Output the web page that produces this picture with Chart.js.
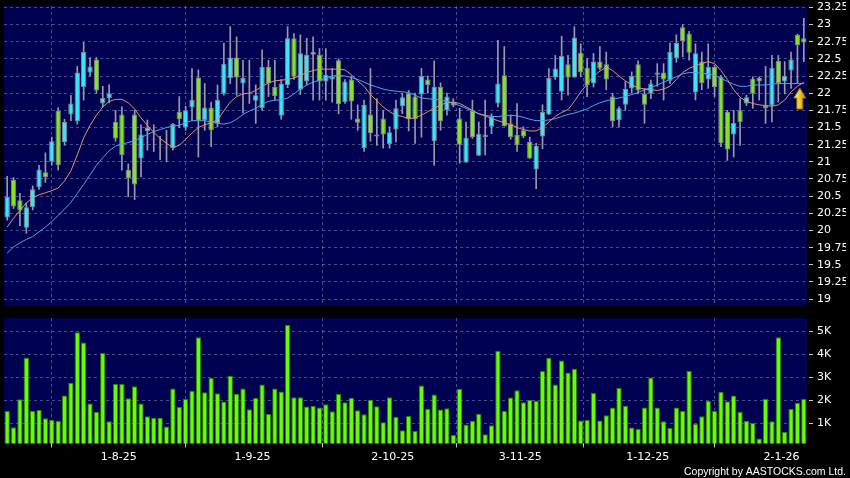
<!DOCTYPE html>
<html><head><meta charset="utf-8">
<script src="https://cdn.jsdelivr.net/npm/chart.js"></script>
<style>
html,body{margin:0;padding:0;background:#000;}
#wrap{position:relative;width:850px;height:478px;background:#000;overflow:hidden;}
.pane{position:absolute;left:0;width:850px;}
</style></head><body>
<div id="wrap">
<div class="pane" style="top:0;height:310px"><canvas id="c1" width="850" height="310"></canvas></div>
<div class="pane" style="top:310px;height:168px"><canvas id="c2" width="850" height="168"></canvas></div>
</div>
<script>
// ---------- data ----------
const dates = [
"8-7-25","9-7-25","10-7-25","11-7-25","14-7-25","15-7-25","16-7-25","17-7-25","18-7-25","21-7-25","22-7-25","23-7-25","24-7-25","25-7-25","28-7-25","29-7-25","30-7-25","31-7-25",
"1-8-25","4-8-25","5-8-25","6-8-25","7-8-25","8-8-25","11-8-25","12-8-25","13-8-25","14-8-25","15-8-25","18-8-25","19-8-25","20-8-25","21-8-25","22-8-25","25-8-25","26-8-25","27-8-25","28-8-25","29-8-25",
"1-9-25","2-9-25","3-9-25","4-9-25","5-9-25","8-9-25","9-9-25","10-9-25","11-9-25","12-9-25","15-9-25","16-9-25","17-9-25","18-9-25","19-9-25","22-9-25","23-9-25","24-9-25","25-9-25","26-9-25","29-9-25","30-9-25",
"2-10-25","3-10-25","6-10-25","8-10-25","9-10-25","10-10-25","13-10-25","14-10-25","15-10-25","16-10-25","17-10-25","20-10-25","21-10-25","22-10-25","23-10-25","24-10-25","27-10-25","28-10-25","30-10-25","31-10-25",
"3-11-25","4-11-25","5-11-25","6-11-25","7-11-25","10-11-25","11-11-25","12-11-25","13-11-25","14-11-25","17-11-25","18-11-25","19-11-25","20-11-25","21-11-25","24-11-25","25-11-25","26-11-25","27-11-25","28-11-25",
"1-12-25","2-12-25","3-12-25","4-12-25","5-12-25","8-12-25","9-12-25","10-12-25","11-12-25","12-12-25","15-12-25","16-12-25","17-12-25","18-12-25","19-12-25","22-12-25","23-12-25","24-12-25","29-12-25","30-12-25","31-12-25",
"2-1-26","5-1-26","6-1-26","7-1-26"];

const opens = [20.19,20.74,20.44,20.04,20.34,20.63,20.85,21.0,21.74,21.29,21.69,21.59,22.09,22.3,22.49,21.85,21.93,21.58,21.69,20.88,
21.69,21.05,21.45,21.32,21.2,21.2,21.2,21.73,21.5,21.79,22.23,21.61,21.79,21.56,21.99,22.22,22.52,22.14,21.99,21.89,
21.78,22.38,22.09,21.67,22.12,22.8,22.05,22.17,22.56,22.56,22.17,22.2,22.48,21.87,22.2,21.63,21.2,21.69,21.4,21.63,
21.26,21.47,21.81,22.0,21.95,21.98,22.2,21.3,22.09,21.75,21.82,21.63,20.99,21.74,21.09,21.4,21.51,21.85,22.26,21.56,
21.39,21.46,21.29,20.89,21.37,21.69,22.23,22.02,22.42,22.23,22.59,22.37,22.14,22.46,22.42,21.95,21.61,21.83,22.07,22.42,
21.99,21.99,22.27,22.3,22.18,22.51,22.96,22.87,22.01,22.46,22.2,22.38,22.24,21.73,21.4,21.75,21.85,22.21,22.22,21.82,
21.82,22.47,22.17,22.33,22.85,22.8];
const highs = [20.79,20.77,20.54,20.4,20.65,20.95,21.13,21.36,21.79,21.62,21.97,22.39,22.74,22.52,22.52,22.1,22.12,21.75,21.8,20.97,
21.75,21.54,21.61,21.54,21.37,21.46,21.56,21.95,21.81,22.36,22.34,22.14,21.87,22.12,22.73,22.97,22.82,22.48,22.48,22.12,
22.63,22.48,22.48,22.2,22.97,22.87,22.85,22.8,22.82,22.65,22.65,22.36,22.5,22.2,22.25,21.83,21.9,22.36,21.92,21.75,
21.51,21.9,22.0,22.04,22.0,22.36,22.25,22.47,22.15,22.0,21.92,21.78,21.58,21.9,21.58,21.9,21.7,22.77,22.68,21.68,
21.85,21.51,21.36,21.27,21.83,22.36,22.55,22.83,22.55,22.97,22.72,22.5,22.58,22.68,22.6,22.0,21.8,22.17,22.31,22.47,
22.07,22.19,22.43,22.43,22.73,22.85,23.0,22.9,22.72,22.6,22.72,22.41,22.26,21.75,21.75,21.92,21.97,22.24,22.24,22.39,
22.55,22.55,22.46,22.6,22.86,23.09];
const lows = [20.15,20.32,20.07,19.96,20.3,20.6,20.7,20.95,20.88,21.24,21.6,21.55,21.9,22.25,22.0,21.8,21.86,21.3,20.88,20.49,
20.45,20.78,21.17,21.15,21.03,21.0,21.17,21.5,21.46,21.6,21.07,21.46,21.22,21.51,21.97,22.14,21.97,21.71,21.85,21.56,
21.75,21.95,21.9,21.62,22.08,22.2,21.98,22.12,21.9,21.9,21.9,21.87,21.7,21.85,21.62,21.46,21.15,21.3,21.24,21.2,
21.2,21.29,21.7,21.45,21.27,21.36,22.0,20.95,21.46,21.68,21.8,20.98,20.99,21.34,21.09,21.1,21.41,21.8,21.52,21.33,
21.15,21.35,21.05,20.61,21.19,21.69,22.2,21.9,21.97,22.23,22.24,21.95,22.09,22.34,22.05,21.51,21.51,21.75,22.0,21.99,
21.56,21.92,22.1,21.9,22.14,22.45,22.53,22.48,21.9,22.05,22.07,21.95,21.22,21.02,21.07,21.24,21.82,21.78,21.9,21.56,
21.58,21.87,21.99,22.07,22.15,22.46];
const closes = [20.49,20.35,20.29,20.34,20.6,20.89,20.78,21.3,20.95,21.58,21.85,22.3,22.6,22.39,22.04,21.93,22.0,21.34,21.1,20.76,
20.67,21.4,21.5,21.33,21.21,21.21,21.55,21.62,21.75,21.9,21.6,21.79,21.46,21.9,22.43,22.52,22.23,22.22,22.0,21.97,
22.38,22.14,21.96,22.14,22.8,22.24,22.58,22.56,22.6,22.17,22.27,22.24,21.84,22.17,21.88,21.57,21.83,21.42,21.37,21.4,
21.43,21.78,21.94,21.62,21.62,22.25,22.12,22.09,21.59,21.95,21.87,21.25,21.35,21.36,21.41,21.36,21.66,22.14,21.52,21.36,
21.24,21.37,21.05,21.23,21.73,22.22,22.36,22.54,22.23,22.81,22.31,22.12,22.46,22.36,22.2,21.59,21.78,22.06,22.25,22.04,
21.83,22.14,22.3,22.2,22.6,22.73,22.76,22.59,22.58,22.15,22.38,22.09,21.27,21.18,21.57,21.58,21.94,21.99,22.17,21.78,
22.37,22.15,22.25,22.49,22.7,22.74];
const maShort = [20.05,20.18,20.29,20.4,20.48,20.52,20.55,20.58,20.62,20.72,20.87,21.1,21.35,21.53,21.68,21.8,21.88,21.91,21.91,21.86,
21.77,21.64,21.53,21.43,21.34,21.27,21.21,21.24,21.33,21.42,21.5,21.54,21.57,21.61,21.74,21.87,21.95,21.99,22.0,22.04,
22.1,22.15,22.18,22.19,22.2,22.22,22.26,22.3,22.33,22.35,22.35,22.35,22.35,22.34,22.27,22.18,22.1,21.98,21.89,21.8,
21.73,21.68,21.66,21.63,21.64,21.68,21.73,21.78,21.83,21.86,21.87,21.85,21.8,21.75,21.7,21.67,21.63,21.6,21.57,21.54,
21.5,21.47,21.45,21.45,21.5,21.58,21.66,21.72,21.76,21.88,22.02,22.13,22.25,22.32,22.38,22.33,22.25,22.18,22.12,22.08,
22.06,22.05,22.04,22.06,22.1,22.2,22.3,22.36,22.4,22.43,22.46,22.43,22.33,22.2,22.05,21.94,21.88,21.85,21.83,21.82,
21.81,21.83,21.9,22.02,22.1,22.16];
const maLong = [19.67,19.76,19.82,19.87,19.91,19.98,20.05,20.13,20.22,20.31,20.41,20.54,20.67,20.81,20.95,21.06,21.16,21.23,21.26,21.28,
21.31,21.35,21.4,21.44,21.47,21.5,21.52,21.53,21.57,21.6,21.6,21.6,21.58,21.56,21.55,21.57,21.62,21.69,21.74,21.78,
21.84,21.88,21.9,21.9,21.93,21.99,22.06,22.12,22.16,22.19,22.22,22.25,22.26,22.25,22.23,22.2,22.16,22.12,22.09,22.06,
22.04,22.03,22.02,22.01,21.97,21.93,21.92,21.91,21.9,21.88,21.85,21.82,21.78,21.74,21.7,21.68,21.66,21.66,21.67,21.68,
21.67,21.65,21.62,21.6,21.6,21.61,21.63,21.66,21.69,21.71,21.74,21.77,21.82,21.86,21.89,21.91,21.93,21.95,21.98,22.01,
22.05,22.08,22.12,22.16,22.2,22.24,22.28,22.3,22.3,22.29,22.28,22.26,22.22,22.17,22.13,22.1,22.1,22.12,22.12,22.12,
22.13,22.14,22.14,22.14,22.14,22.14];
const volumes = [1550,840,2060,3860,1550,1590,1230,1170,1120,2220,2770,4960,4520,1870,1520,4060,1100,2720,2720,2100,
2620,1870,1320,1250,1260,880,2520,1720,2070,2430,4740,2360,2990,2320,1960,3070,2290,2520,1620,2120,
2700,1420,2520,2390,5280,2140,2140,1740,1780,1700,1840,1540,2280,1930,2120,1580,1410,2030,1750,1060,
2140,1300,710,1330,680,2650,1650,2260,1610,1670,510,2510,960,1120,1430,540,930,4160,1550,2130,
2450,1930,2040,1990,3280,3860,2700,3740,3220,3380,1140,1170,2330,1140,1360,1700,2540,1780,830,770,
1700,3000,1700,1100,810,1700,1550,3280,1000,1320,1990,1550,2380,1970,2220,1520,1130,1030,360,2070,
1100,4740,640,1640,1910,2070];
const priceTicks = [19,19.25,19.5,19.75,20,20.25,20.5,20.75,21,21.25,21.5,21.75,22,22.25,22.5,22.75,23,23.25];
const volumeTicks = [1000,2000,3000,4000,5000];
const signal = {index: 125, price: 21.9};

// ---------- style ----------
const PLOT_BG = '#000050';
const GRID = 'rgba(130,140,190,0.55)';
const TICK_COL = '#c8c8c8';
const TEXT = '#ffffff';
const UP = '#3ee4f4';
const DOWN = '#84e424';
const BODY_EDGE = '#7f8a96';
const WICK = '#9a9aa6';
const VOL_FILL = '#66ff00';
const VOL_EDGE = '#2f7f00';
const FONT = {family: '"DejaVu Sans", Verdana, sans-serif', size: 11};

const monthStarts = dates.map((d, i) => i).filter(i => i > 0 && dates[i].split('-')[1] !== dates[i - 1].split('-')[1]);
const N = dates.length;

const bgPlugin = {
  id: 'plotbg',
  beforeDraw(chart) {
    const {ctx, chartArea: a} = chart;
    ctx.save();
    ctx.fillStyle = '#000';
    ctx.fillRect(0, 0, chart.width, chart.height);
    ctx.fillStyle = PLOT_BG;
    ctx.fillRect(a.left, a.top, a.right - a.left, a.bottom - a.top);
    ctx.restore();
  }
};

const arrowPlugin = {
  id: 'arrow',
  afterDatasetsDraw(chart) {
    const {ctx} = chart;
    const xs = chart.scales.x, ys = chart.scales.y;
    const cx = xs.getPixelForValue(signal.index) - 4;
    const tip = ys.getPixelForValue(signal.price) - 12;
    const hw = 6, hh = 10, sw = 3, len = 21;
    ctx.save();
    const g = ctx.createLinearGradient(cx - hw, 0, cx + hw, 0);
    g.addColorStop(0, '#fff2a0');
    g.addColorStop(0.45, '#f6c836');
    g.addColorStop(1, '#c88a10');
    ctx.beginPath();
    ctx.moveTo(cx, tip);
    ctx.lineTo(cx + hw, tip + hh);
    ctx.lineTo(cx + sw, tip + hh);
    ctx.lineTo(cx + sw, tip + len);
    ctx.lineTo(cx - sw, tip + len);
    ctx.lineTo(cx - sw, tip + hh);
    ctx.lineTo(cx - hw, tip + hh);
    ctx.closePath();
    ctx.fillStyle = g;
    ctx.fill();
    ctx.strokeStyle = '#9a6a08';
    ctx.lineWidth = 1;
    ctx.stroke();
    ctx.restore();
  }
};

const noPad = s => { s.paddingTop = 0; s.paddingBottom = 0; s.paddingLeft = 0; s.paddingRight = 0; };

const gridAxis = (showLabels) => ({
  type: 'linear',
  position: 'bottom',
  min: -0.5,
  max: N - 0.5,
  offset: false,
  afterBuildTicks: s => { s.ticks = monthStarts.map(i => ({value: i - 0.5})); },
  afterFit: s => { s.height = showLabels ? 20 : 0; noPad(s); },
  ticks: {display: showLabels, autoSkip: false, maxRotation: 0, color: TEXT, font: FONT, padding: 3,
          callback: v => dates[Math.round(v + 0.5)]},
  grid: {color: GRID, drawTicks: showLabels, tickLength: 4, tickColor: TICK_COL},
  border: {display: false, dash: [3, 3]}
});

// ---------- price chart ----------
new Chart(document.getElementById('c1'), {
  type: 'bar',
  data: {
    labels: dates,
    datasets: [
      {type: 'line', label: 'MA short', data: maShort, borderColor: '#e8906a', borderWidth: 1, pointRadius: 0, tension: 0, order: 0},
      {type: 'line', label: 'MA long', data: maLong, borderColor: '#46a8ec', borderWidth: 1, pointRadius: 0, tension: 0, order: 1},
      {label: 'Body', data: opens.map((o, i) => [o, closes[i]]),
       backgroundColor: closes.map((c, i) => c >= opens[i] ? UP : DOWN),
       borderColor: BODY_EDGE, borderWidth: 1, borderSkipped: false,
       barPercentage: 0.84, categoryPercentage: 1, grouped: false, order: 2},
      {label: 'Range', data: lows.map((l, i) => [l, highs[i]]),
       backgroundColor: WICK, borderWidth: 0, barThickness: 1, grouped: false, order: 3}
    ]
  },
  options: {
    responsive: false, animation: false, events: [],
    layout: {padding: {left: 4, right: 4, top: 6, bottom: 4}},
    plugins: {legend: {display: false}, tooltip: {enabled: false}},
    scales: {
      x: {type: 'category', display: false, offset: true},
      xg: gridAxis(false),
      y: {
        position: 'right', min: 18.9, max: 23.27,
        afterBuildTicks: s => { s.ticks = priceTicks.map(v => ({value: v})); },
        afterFit: s => { s.width = 39; noPad(s); },
        ticks: {color: TEXT, font: FONT, padding: 4, callback: v => String(v)},
        grid: {color: GRID, tickColor: TICK_COL, tickLength: 6, tickBorderDash: [0, 2, 4, 40]},
        border: {display: false, dash: [3, 3]}
      }
    }
  },
  plugins: [bgPlugin, arrowPlugin]
});

// ---------- volume chart ----------
new Chart(document.getElementById('c2'), {
  type: 'bar',
  data: {
    labels: dates,
    datasets: [{label: 'Volume', data: volumes, backgroundColor: VOL_FILL, borderColor: VOL_EDGE,
                borderWidth: 1, borderSkipped: false, barPercentage: 0.84, categoryPercentage: 1}]
  },
  options: {
    responsive: false, animation: false, events: [],
    layout: {padding: {left: 4, right: 4, top: 8, bottom: 0}},
    plugins: {
      legend: {display: false}, tooltip: {enabled: false},
      title: {display: true, position: 'bottom', align: 'end', text: 'Copyright by AASTOCKS.com Ltd.',
              color: TEXT, font: {family: '"Liberation Sans", Arial, sans-serif', size: 10.5, weight: 'normal'},
              padding: {top: 2, bottom: 0}}
    },
    scales: {
      x: {type: 'category', display: false, offset: true},
      xg: gridAxis(true),
      y: {
        position: 'right', min: 143, max: 5578,
        afterBuildTicks: s => { s.ticks = volumeTicks.map(v => ({value: v})); },
        afterFit: s => { s.width = 39; noPad(s); },
        ticks: {color: TEXT, font: FONT, padding: 4, callback: v => (v / 1000) + 'K'},
        grid: {color: GRID, tickColor: TICK_COL, tickLength: 6, tickBorderDash: [0, 2, 4, 40]},
        border: {display: false, dash: [3, 3]}
      }
    }
  },
  plugins: [bgPlugin]
});
</script>
</body></html>
